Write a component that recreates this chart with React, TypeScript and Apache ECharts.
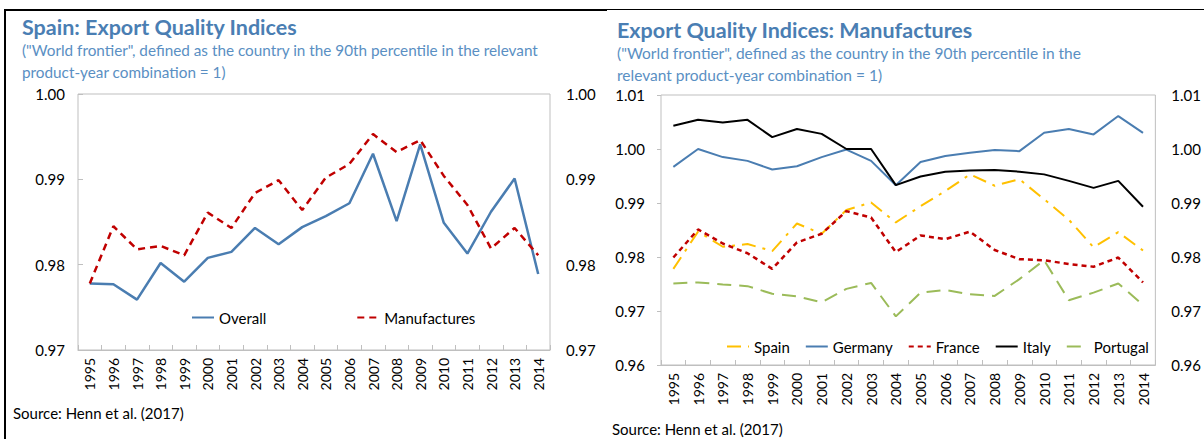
import React, { useEffect, useRef } from "react";
import * as echarts from "echarts";

const years = ["1995","1996","1997","1998","1999","2000","2001","2002","2003","2004","2005","2006","2007","2008","2009","2010","2011","2012","2013","2014"];

const spainOverall = [0.9778, 0.9777, 0.9759, 0.9802, 0.978, 0.9808, 0.9815, 0.9843, 0.9824, 0.9844, 0.9857, 0.9872, 0.993, 0.9851, 0.9941, 0.9849, 0.9813, 0.9862, 0.9901, 0.9789];
const spainManufactures = [0.9778, 0.9845, 0.9818, 0.9822, 0.9811, 0.9861, 0.9843, 0.9884, 0.9899, 0.9864, 0.9902, 0.9918, 0.9953, 0.9932, 0.9946, 0.9904, 0.987, 0.9819, 0.9843, 0.9811];

const mfgSpain = [0.9778, 0.9847, 0.9819, 0.9824, 0.9811, 0.9862, 0.9843, 0.9887, 0.9901, 0.9864, 0.9894, 0.9922, 0.9953, 0.9932, 0.9944, 0.9907, 0.9869, 0.9818, 0.9846, 0.9812];
const mfgGermany = [0.9967, 1.0, 0.9985, 0.9978, 0.9962, 0.9968, 0.9985, 0.9999, 0.9978, 0.9933, 0.9976, 0.9987, 0.9993, 0.9998, 0.9996, 1.003, 1.0037, 1.0027, 1.0061, 1.003];
const mfgFrance = [0.9799, 0.9851, 0.9825, 0.9807, 0.9778, 0.9827, 0.9843, 0.9885, 0.9873, 0.9809, 0.984, 0.9833, 0.9847, 0.9813, 0.9796, 0.9794, 0.9787, 0.9782, 0.9799, 0.9753];
const mfgItaly = [1.0043, 1.0054, 1.0049, 1.0054, 1.0022, 1.0037, 1.0028, 1.0, 1.0, 0.9933, 0.9949, 0.9958, 0.996, 0.9961, 0.9958, 0.9953, 0.9941, 0.9928, 0.9941, 0.9893];
const mfgPortugal = [0.9751, 0.9753, 0.9749, 0.9746, 0.9732, 0.9727, 0.9716, 0.9741, 0.9752, 0.969, 0.9734, 0.9739, 0.9731, 0.9728, 0.9759, 0.9794, 0.972, 0.9734, 0.9751, 0.9711];

const FONT = "Lato, 'Open Sans', sans-serif";
const BLUE = "#4a7db1";
const RED = "#c00000";
const YELLOW = "#ffc000";
const GREEN = "#9bbb59";
const TITLE = "#4a7eb3";
const SUB = "#5a8fc3";

export default function App() {
  const ref = useRef<HTMLDivElement>(null);
  useEffect(() => {
    if (!ref.current) return;
    const chart = echarts.init(ref.current, undefined, { renderer: "svg" });
    const fmt = (v: number) => v.toFixed(2);
    const xAxisBase = (gridIndex: number) => ({
      type: "category",
      gridIndex,
      data: years,
      boundaryGap: true,
      axisLine: { show: true, lineStyle: { color: "#bfbfbf", width: 1 } },
      axisTick: { show: true, inside: true, length: 5, lineStyle: { color: "#bfbfbf" } },
      axisLabel: { rotate: 90, fontSize: 14, color: "#000", fontFamily: FONT, margin: 8, interval: 0 },
      splitLine: { show: false },
    });
    const yAxisBase = (gridIndex: number, min: number, max: number, pos: string, margin: number, tick: any) => ({
      type: "value",
      gridIndex,
      min,
      max,
      interval: 0.01,
      position: pos,
      axisLine: { show: false },
      axisTick: tick,
      splitLine: { show: false },
      axisLabel: { formatter: fmt, fontSize: 15, color: "#000", fontFamily: FONT, margin },
    });
    const line = (name: string, data: number[], xi: number, yi: number, color: string, width: number, type: any) => ({
      name,
      type: "line",
      data,
      xAxisIndex: xi,
      yAxisIndex: yi,
      symbol: "none",
      lineStyle: { color, width, type },
      itemStyle: { color },
    });
    const legendCommon = {
      itemWidth: 22,
      itemHeight: 10,
      itemStyle: { opacity: 0, borderWidth: 0 },
      textStyle: { fontSize: 15, color: "#000", fontFamily: FONT },
    };
    chart.setOption({
      animation: false,
      backgroundColor: "#fff",
      textStyle: { fontFamily: FONT },
      grid: [
        { left: 78, top: 94, width: 472, height: 256, show: true, borderColor: "#bfbfbf", borderWidth: 1, containLabel: false },
        { left: 661, top: 95, width: 498, height: 270, show: true, borderColor: "#bfbfbf", borderWidth: 1, containLabel: false },
      ],
      xAxis: [xAxisBase(0), xAxisBase(1)],
      yAxis: [
        yAxisBase(0, 0.97, 1.0, "left", 13, { show: true, inside: true, length: 5, lineStyle: { color: "#bfbfbf" } }),
        yAxisBase(0, 0.97, 1.0, "right", 16, { show: false }),
        yAxisBase(1, 0.96, 1.01, "left", 16, { show: true, inside: false, length: 4, lineStyle: { color: "#bfbfbf" } }),
        yAxisBase(1, 0.96, 1.01, "right", 16, { show: false }),
      ],
      legend: [
        {
          ...legendCommon,
          data: ["Overall", "Manufactures"],
          left: 186,
          top: 305,
          itemGap: 90,
        },
        {
          ...legendCommon,
          data: ["Spain", "Germany", "France", "Italy", "Portugal"],
          left: 721,
          top: 334,
          itemGap: 15,
        },
      ],
      series: [
        line("Overall", spainOverall, 0, 0, BLUE, 2.5, "solid"),
        line("Manufactures", spainManufactures, 0, 0, RED, 2.5, [7, 5]),
        line("Portugal", mfgPortugal, 1, 2, GREEN, 2, [14, 8]),
        line("Spain", mfgSpain, 1, 2, YELLOW, 2, [14, 7, 3, 7]),
        line("France", mfgFrance, 1, 2, RED, 2.5, [5, 4]),
        line("Germany", mfgGermany, 1, 2, BLUE, 2, "solid"),
        line("Italy", mfgItaly, 1, 2, "#000", 2, "solid"),
      ],
      graphic: [
        { type: "line", shape: { x1: 5, y1: 10, x2: 607, y2: 10 }, style: { stroke: "#000", lineWidth: 2 } },
        { type: "line", shape: { x1: 607, y1: 9.5, x2: 1204, y2: 9.5 }, style: { stroke: "#000", lineWidth: 1.2 } },
        { type: "line", shape: { x1: 5, y1: 9, x2: 5, y2: 439 }, style: { stroke: "#000", lineWidth: 2 } },
        { type: "text", x: 22, y: 27, style: { text: "Spain: Export Quality Indices", fill: TITLE, font: `bold 21.5px ${FONT}`, verticalAlign: "middle" } },
        { type: "text", x: 22, y: 50, style: { text: "(\"World frontier\", defined as the country in the 90th percentile in the relevant", fill: SUB, font: `15.3px ${FONT}`, verticalAlign: "middle" } },
        { type: "text", x: 22, y: 72, style: { text: "product-year combination = 1)", fill: SUB, font: `15.3px ${FONT}`, verticalAlign: "middle" } },
        { type: "text", x: 617, y: 30, style: { text: "Export Quality Indices: Manufactures", fill: TITLE, font: `bold 21.5px ${FONT}`, verticalAlign: "middle" } },
        { type: "text", x: 617, y: 53, style: { text: "(\"World frontier\", defined as the country in the 90th percentile in the", fill: SUB, font: `15.5px ${FONT}`, verticalAlign: "middle" } },
        { type: "text", x: 617, y: 75, style: { text: "relevant product-year combination = 1)", fill: SUB, font: `15.5px ${FONT}`, verticalAlign: "middle" } },
        { type: "text", x: 13, y: 413, style: { text: "Source: Henn et al. (2017)", fill: "#000", font: `15px ${FONT}`, verticalAlign: "middle" } },
        { type: "text", x: 612, y: 429, style: { text: "Source: Henn et al. (2017)", fill: "#000", font: `15px ${FONT}`, verticalAlign: "middle" } },
      ],
    });
    return () => chart.dispose();
  }, []);
  return (
    <div
      ref={ref}
      style={{ position: "absolute", left: 0, top: 0, width: 1204, height: 439, background: "#fff" }}
    />
  );
}
